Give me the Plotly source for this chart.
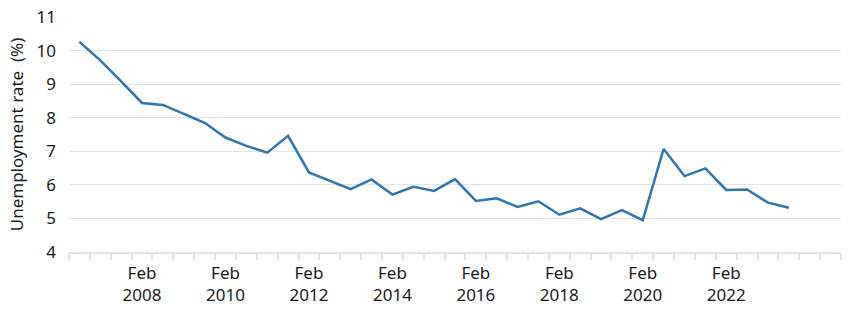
import plotly.graph_objects as go

periods = []
for y in range(2006, 2025):
    for m in ("Feb", "Aug"):
        if (y == 2006 and m == "Feb"):
            continue
        periods.append(f"{m} {y}")
periods = periods[:37]

unemployment = [10.26, 9.71, 9.08, 8.44, 8.38, 8.12, 7.85, 7.41, 7.16, 6.96,
                7.46, 6.37, 6.12, 5.87, 6.16, 5.71, 5.94, 5.82, 6.17, 5.52,
                5.60, 5.34, 5.51, 5.11, 5.30, 4.98, 5.25, 4.95, 7.07, 6.26,
                6.49, 5.85, 5.86, 5.47, 5.32]

tick_labels = [p.replace(" ", "<br>") if p.startswith("Feb") and int(p[-4:]) % 2 == 0 and int(p[-4:]) <= 2022 else "" for p in periods]

grid = "#dfe4ec"
font = dict(family="Noto Sans", size=17, color="#1a1a1a")

fig = go.Figure()
fig.add_trace(go.Scatter(x=periods[:len(unemployment)], y=unemployment, mode="lines",
                         line=dict(color="#2e75b6", width=2.5), showlegend=False))

fig.update_layout(
    width=850, height=315,
    margin=dict(l=69, r=9, t=17, b=63),
    paper_bgcolor="white", plot_bgcolor="white",
    font=font,
)
fig.update_xaxes(
    type="category", categoryorder="array", categoryarray=periods,
    range=[-0.5, len(periods) - 0.5],
    tickmode="array", tickvals=periods, ticktext=tick_labels, tickangle=0,
    tickson="boundaries", ticks="outside", ticklen=6, tickcolor=grid, tickwidth=1.5,
    ticklabelstandoff=5,
    showgrid=False, showline=True, linecolor=grid, linewidth=1.5,
    tickfont=font, zeroline=False, automargin=False,
)
fig.update_yaxes(
    range=[4, 11], dtick=1, tick0=4, showgrid=True, gridcolor=grid, gridwidth=1.2,
    zeroline=False, showline=False, ticks="", ticklabelstandoff=12, tickfont=font,
    automargin=False,
    title=dict(text="Unemployment rate\u00a0\u00a0(%)", font=font, standoff=8),
)

fig.write_html("out.html")
